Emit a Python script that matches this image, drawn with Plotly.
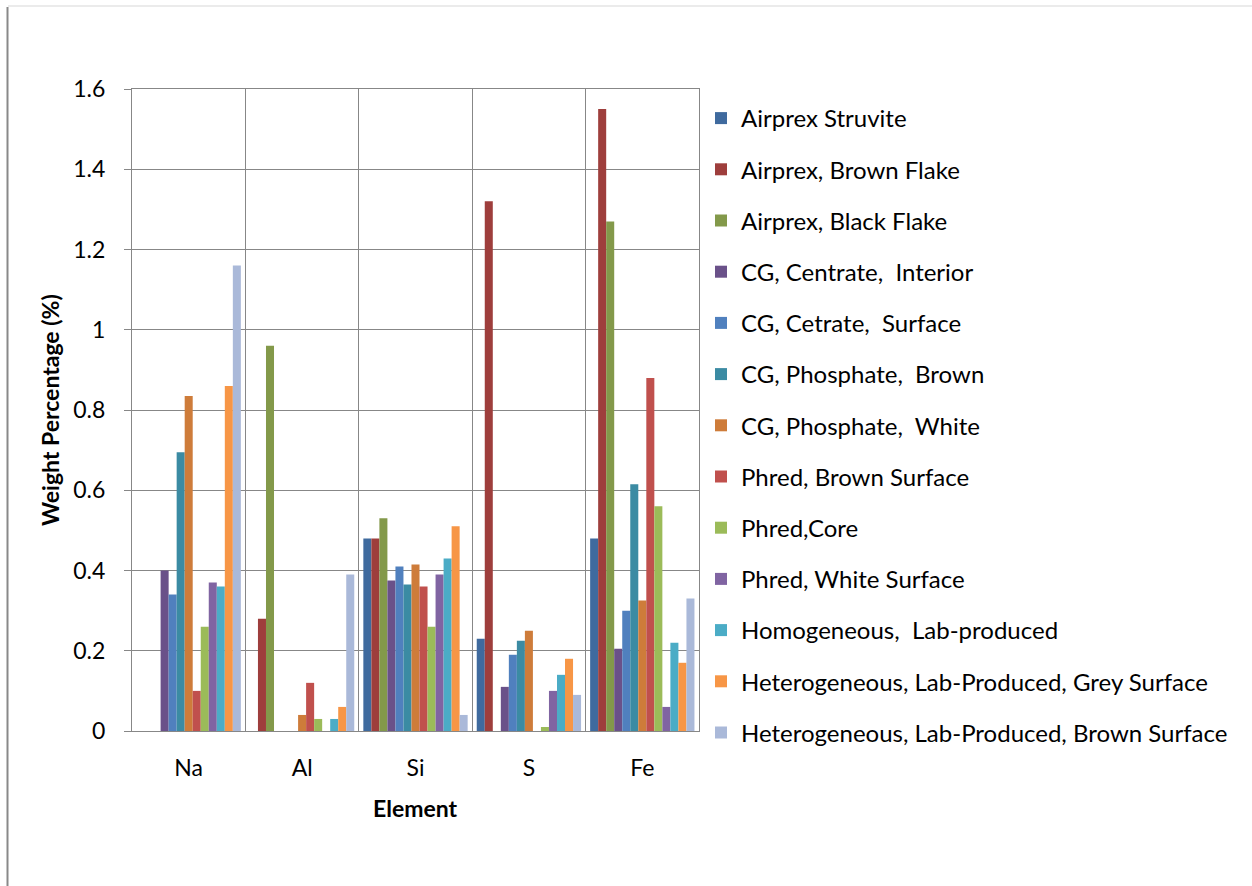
import plotly.graph_objects as go

elements = ["Na", "Al", "Si", "S", "Fe"]

airprex_struvite = [0, 0, 0.48, 0.23, 0.48]
airprex_brown_flake = [0, 0.28, 0.48, 1.32, 1.55]
airprex_black_flake = [0, 0.96, 0.53, 0, 1.27]
cg_centrate_interior = [0.40, 0, 0.375, 0.11, 0.205]
cg_cetrate_surface = [0.34, 0, 0.41, 0.19, 0.30]
cg_phosphate_brown = [0.695, 0, 0.365, 0.225, 0.615]
cg_phosphate_white = [0.835, 0.04, 0.415, 0.25, 0.325]
phred_brown_surface = [0.10, 0.12, 0.36, 0, 0.88]
phred_core = [0.26, 0.03, 0.26, 0.01, 0.56]
phred_white_surface = [0.37, 0, 0.39, 0.10, 0.06]
homogeneous_lab = [0.36, 0.03, 0.43, 0.14, 0.22]
hetero_grey_surface = [0.86, 0.06, 0.51, 0.18, 0.17]
hetero_brown_surface = [1.16, 0.39, 0.04, 0.09, 0.33]

series_names = [
    "Airprex Struvite",
    "Airprex, Brown Flake",
    "Airprex, Black Flake",
    "CG, Centrate,  Interior",
    "CG, Cetrate,  Surface",
    "CG, Phosphate,  Brown",
    "CG, Phosphate,  White",
    "Phred, Brown Surface",
    "Phred,Core",
    "Phred, White Surface",
    "Homogeneous,  Lab-produced",
    "Heterogeneous, Lab-Produced, Grey Surface",
    "Heterogeneous, Lab-Produced, Brown Surface",
]
series_values = [
    airprex_struvite, airprex_brown_flake, airprex_black_flake,
    cg_centrate_interior, cg_cetrate_surface, cg_phosphate_brown,
    cg_phosphate_white, phred_brown_surface, phred_core,
    phred_white_surface, homogeneous_lab, hetero_grey_surface,
    hetero_brown_surface,
]
series_colors = [
    "#3F6A9E", "#9E3E3C", "#83994A", "#6A5189", "#5080BE", "#3B8BA3",
    "#CE7C3A", "#C0504D", "#9BBB59", "#8064A2", "#4BACC6", "#F79646",
    "#AAB9D9",
]

FONT = "Lato"
GRID = "#878787"

fig = go.Figure()
for i, (name, vals, col) in enumerate(zip(series_names, series_values, series_colors)):
    fig.add_trace(go.Bar(
        x=elements, y=vals, name=name, legendgroup=f"g{i}",
        marker=dict(color=col, line=dict(width=0)),
    ))

W, H = 1252, 886
L, R, T, B = 132, 699, 89, 731


def px_x(p):
    return (p - L) / (R - L)


def px_y(p):
    return (B - p) / (B - T)


fig.update_layout(
    width=W, height=H,
    margin=dict(l=L, r=W - R, t=T, b=H - B, autoexpand=False),
    paper_bgcolor="white", plot_bgcolor="white",
    barmode="group", bargap=0.08, bargroupgap=0,
    font=dict(family=FONT, size=23, color="#000000"),
    xaxis=dict(
        type="category", tickson="boundaries", showgrid=True,
        gridcolor=GRID, gridwidth=1, showline=True, linecolor=GRID,
        linewidth=1, ticks="", ticklabelstandoff=16, mirror=True,
        tickfont=dict(size=23),
    ),
    yaxis=dict(
        range=[0, 1.6], dtick=0.2, showgrid=True, gridcolor=GRID,
        gridwidth=1, showline=True, linecolor=GRID, linewidth=1,
        ticks="outside", ticklen=7, tickcolor=GRID, ticklabelstandoff=14,
        zeroline=False, tickfont=dict(size=23), mirror=True,
    ),
    legend=dict(
        x=px_x(701), y=px_y(96), xanchor="left", yanchor="top",
        font=dict(size=24), tracegroupgap=17, traceorder="grouped",
        bgcolor="rgba(0,0,0,0)", maxheight=760,
    ),
    showlegend=True,
    annotations=[
        dict(text="<b>Weight Percentage (%)</b>", textangle=-90,
             xref="paper", yref="paper", x=px_x(50), y=0.5,
             xanchor="center", yanchor="middle", showarrow=False,
             font=dict(size=23)),
        dict(text="<b>Element</b>", xref="paper", yref="paper",
             x=0.5, y=px_y(808), xanchor="center", yanchor="middle",
             showarrow=False, font=dict(size=23)),
    ],
    shapes=[
        dict(type="line", xref="paper", yref="paper",
             x0=px_x(7.5), x1=px_x(7.5), y0=px_y(7), y1=px_y(886),
             line=dict(color="#898989", width=2)),
        dict(type="line", xref="paper", yref="paper",
             x0=px_x(8), x1=px_x(1252), y0=px_y(6), y1=px_y(6),
             line=dict(color="#E4E4E4", width=1.5)),
    ],
)

fig.write_html("out.html")
